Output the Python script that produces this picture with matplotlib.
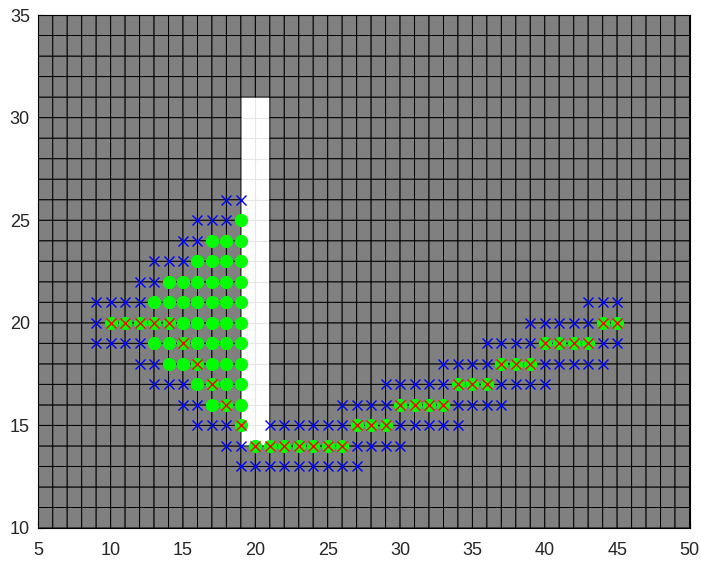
import numpy as np
import matplotlib
matplotlib.use('Agg')
import matplotlib.pyplot as plt

# limites del mapa (celdas de 1x1)
x_lim = [5, 50]
y_lim = [10, 35]
x_ticks = [5, 10, 15, 20, 25, 30, 35, 40, 45, 50]
y_ticks = [10, 15, 20, 25, 30, 35]

# celdas libres (blancas): columnas y filas por su esquina inferior izquierda
free_cols = [19, 20]
free_rows = list(range(14, 31))

# lista abierta (x azules), por fila y
open_rows = {
    26: [18, 19],
    25: [16, 17, 18],
    24: [15, 16],
    23: [13, 14, 15],
    22: [12, 13],
    21: [9, 10, 11, 12, 43, 44, 45],
    20: [9, 39, 40, 41, 42, 43],
    19: [9, 10, 11, 12, 36, 37, 38, 39, 44, 45],
    18: [12, 13, 33, 34, 35, 36, 40, 41, 42, 43, 44],
    17: [13, 14, 15, 29, 30, 31, 32, 33, 37, 38, 39, 40],
    16: [15, 16, 26, 27, 28, 29, 34, 35, 36, 37],
    15: [16, 17, 18, 21, 22, 23, 24, 25, 26, 30, 31, 32, 33, 34],
    14: [18, 19, 27, 28, 29, 30],
    13: [19, 20, 21, 22, 23, 24, 25, 26, 27],
}

# lista cerrada (circulos verdes), por fila y
closed_rows = {
    25: [19],
    24: [17, 18, 19],
    23: [16, 17, 18, 19],
    22: [14, 15, 16, 17, 18, 19],
    21: [13, 14, 15, 16, 17, 18, 19],
    20: [15, 16, 17, 18, 19],
    19: [13, 14, 16, 17, 18, 19],
    18: [14, 15, 17, 18, 19],
    17: [16, 18, 19],
    16: [17, 19],
}

# camino final (x rojas)
path_x = [10, 11, 12, 13, 14, 15, 16, 17, 18, 19, 20, 21, 22, 23, 24, 25, 26,
          27, 28, 29, 30, 31, 32, 33, 34, 35, 36, 37, 38, 39, 40, 41, 42, 43, 44, 45]
path_y = [20, 20, 20, 20, 20, 19, 18, 17, 16, 15, 14, 14, 14, 14, 14, 14, 14,
          15, 15, 15, 16, 16, 16, 16, 17, 17, 17, 18, 18, 18, 19, 19, 19, 19, 20, 20]


def aplanar(filas):
    xs, ys = [], []
    for y, cols in filas.items():
        xs += cols
        ys += [y] * len(cols)
    return xs, ys


open_x, open_y = aplanar(open_rows)
closed_x, closed_y = aplanar(closed_rows)

# mapa de ocupacion
xe = np.arange(x_lim[0], x_lim[1] + 1)
ye = np.arange(y_lim[0], y_lim[1] + 1)
occ = np.ones((len(ye) - 1, len(xe) - 1))
for r in free_rows:
    for c in free_cols:
        occ[r - y_lim[0], c - x_lim[0]] = 0
occ = np.ma.masked_equal(occ, 0)

plt.rcParams['font.family'] = ['Liberation Sans', 'DejaVu Sans']

fig = plt.figure(figsize=(7.01, 5.61), dpi=100)
ax = fig.add_axes([38.3 / 701, 33 / 561, (689.5 - 38.3) / 701, (528 - 15) / 561])

ax.pcolor(xe, ye, occ, cmap='gray', vmin=0, vmax=2, edgecolors='k',
          linewidth=0.7, zorder=1)

ax.plot(closed_x + path_x, closed_y + path_y, 'o', color=(0, 1, 0),
        markersize=9.5, markeredgewidth=0, zorder=3)
ax.plot(open_x, open_y, 'x', color=(0, 0, 1), markersize=7,
        markeredgewidth=1, zorder=4)
ax.plot(path_x, path_y, 'x', color=(1, 0, 0), markersize=7,
        markeredgewidth=1, zorder=5)

ax.set_xlim(x_lim)
ax.set_ylim(y_lim)
ax.set_xticks(x_ticks)
ax.set_yticks(y_ticks)
ax.set_xticks(xe, minor=True)
ax.set_yticks(ye, minor=True)
ax.tick_params(which='minor', length=0)
ax.tick_params(which='major', direction='in', length=4, labelsize=13,
               labelcolor='#262626')
ax.tick_params(axis='x', pad=10)
ax.tick_params(axis='y', pad=6)
ax.grid(True, which='both', color='#e6e6e6', linewidth=0.8)
ax.set_axisbelow(True)
for s in ax.spines.values():
    s.set_linewidth(0.8)
    s.set_zorder(6)

fig.savefig('out.png', dpi=100)
